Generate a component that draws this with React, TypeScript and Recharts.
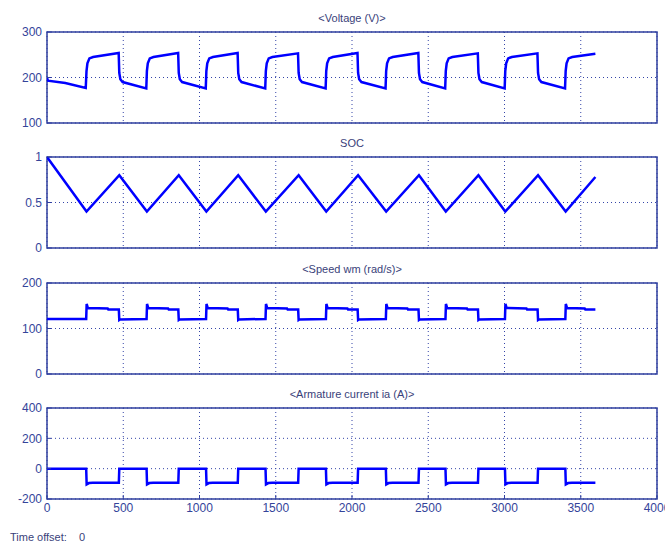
import React from 'react';
import { LineChart, Line, XAxis, YAxis, CartesianGrid, ReferenceArea } from 'recharts';

type Pt = [number, number];

const xTicks = [0, 500, 1000, 1500, 2000, 2500, 3000, 3500, 4000];

const voltageTicks = [100, 200, 300];
const socTicks = [0, 0.5, 1];
const speedTicks = [0, 100, 200];
const currentTicks = [-200, 0, 200, 400];

const titles = ['<Voltage (V)>', 'SOC', '<Speed wm (rad/s)>', '<Armature current ia (A)>'];

const voltagePts: Pt[] = [
  [0, 199], [6, 193], [120, 188], [254, 177],
  [259, 214], [265, 231], [278, 242], [302, 245], [470, 254],
  [474, 210], [481, 196], [496, 190], [651, 176],
  [655, 214], [661, 231], [674, 242], [698, 245], [860, 254],
  [864, 210], [871, 196], [886, 190], [1041, 176],
  [1045, 214], [1051, 231], [1064, 242], [1088, 245], [1250, 254],
  [1254, 210], [1261, 196], [1276, 190], [1431, 176],
  [1435, 214], [1441, 231], [1454, 242], [1478, 245], [1646, 253],
  [1650, 210], [1657, 196], [1672, 190], [1827, 176],
  [1831, 214], [1837, 231], [1850, 242], [1874, 245], [2036, 254],
  [2040, 210], [2047, 196], [2062, 190], [2220, 176],
  [2224, 214], [2230, 231], [2243, 242], [2267, 245], [2435, 254],
  [2439, 210], [2446, 196], [2461, 190], [2611, 176],
  [2615, 214], [2621, 231], [2634, 242], [2658, 245], [2825, 253],
  [2829, 210], [2836, 196], [2851, 190], [3001, 176],
  [3005, 214], [3011, 231], [3024, 242], [3048, 245], [3216, 253],
  [3220, 210], [3227, 196], [3242, 190], [3397, 176],
  [3401, 214], [3407, 231], [3420, 242], [3444, 245], [3596, 252],
];

const socPts: Pt[] = [
  [0, 1], [259, 0.4], [474, 0.8], [655, 0.4], [864, 0.8], [1045, 0.4],
  [1254, 0.8], [1435, 0.4], [1650, 0.8], [1831, 0.4], [2040, 0.8],
  [2224, 0.4], [2439, 0.8], [2615, 0.4], [2829, 0.8], [3005, 0.4],
  [3220, 0.8], [3401, 0.4], [3596, 0.78],
];

const speedPts: Pt[] = [
  [0, 121], [257, 121], [260, 154], [268, 145], [398, 144], [402, 142], [471, 142], [474, 119], [478, 120], [653, 121],
  [656, 154], [664, 145], [794, 144], [798, 142], [861, 142], [864, 119], [868, 120], [1043, 121],
  [1046, 154], [1054, 145], [1184, 144], [1188, 142], [1251, 142], [1254, 119], [1258, 120], [1433, 121],
  [1436, 154], [1444, 145], [1574, 144], [1578, 142], [1647, 142], [1650, 119], [1654, 120], [1829, 121],
  [1832, 154], [1840, 145], [1970, 144], [1974, 142], [2037, 142], [2040, 119], [2044, 120], [2222, 121],
  [2225, 154], [2233, 145], [2363, 144], [2367, 142], [2436, 142], [2439, 119], [2443, 120], [2613, 121],
  [2616, 154], [2624, 145], [2754, 144], [2758, 142], [2826, 142], [2829, 119], [2833, 120], [3003, 121],
  [3006, 154], [3014, 145], [3144, 144], [3148, 142], [3217, 142], [3220, 119], [3224, 120], [3399, 121],
  [3402, 154], [3410, 145], [3526, 144], [3530, 142], [3596, 142],
];

const currentPts: Pt[] = [
  [0, 0], [257, 0], [260, -104], [275, -95], [300, -93], [471, -93], [474, 0], [653, 0],
  [656, -104], [671, -95], [696, -93], [861, -93], [864, 0], [1043, 0],
  [1046, -104], [1061, -95], [1086, -93], [1251, -93], [1254, 0], [1433, 0],
  [1436, -104], [1451, -95], [1476, -93], [1647, -93], [1650, 0], [1829, 0],
  [1832, -104], [1847, -95], [1872, -93], [2037, -93], [2040, 0], [2222, 0],
  [2225, -104], [2240, -95], [2265, -93], [2436, -93], [2439, 0], [2613, 0],
  [2616, -104], [2631, -95], [2656, -93], [2826, -93], [2829, 0], [3003, 0],
  [3006, -104], [3021, -95], [3046, -93], [3217, -93], [3220, 0], [3399, 0],
  [3402, -104], [3417, -95], [3442, -93], [3596, -93],
];

const FONT = '"Liberation Sans", Arial, sans-serif';
const LABEL = '#34449a';
const FRAME = '#2f3f9f';
const GRID = '#3444a8';
const TITLE = '#3a3f7a';

const PLOT_H = 91;
const PAD = 10;

function Panel(props: {
  top: number;
  title: string;
  pts: Pt[];
  domain: [number, number];
  ticks: number[];
  showX: boolean;
}) {
  const { top, title, pts, domain, ticks, showX } = props;
  const rows = pts.map(([t, v]) => ({ t, v }));
  const h = showX ? PAD + PLOT_H + 25 : PAD + PLOT_H + PAD;
  const tickStyle = { fill: LABEL, fontSize: 12, fontFamily: FONT };
  return (
    <>
      <div
        style={{
          position: 'absolute',
          left: 47,
          width: 610,
          top: top - 21,
          height: 14,
          lineHeight: '14px',
          textAlign: 'center',
          fontFamily: FONT,
          fontSize: 11,
          color: TITLE,
        }}
      >
        {title}
      </div>
      <div style={{ position: 'absolute', left: 0, top: top - PAD, width: 665, height: h }}>
        <LineChart
          width={665}
          height={h}
          data={rows}
          margin={{ top: PAD, right: 8, bottom: showX ? 0 : PAD, left: 0 }}
        >
          <CartesianGrid stroke={GRID} strokeDasharray="1 3" strokeWidth={1} />
          <XAxis
            dataKey="t"
            type="number"
            domain={[0, 4000]}
            ticks={xTicks}
            interval={0}
            allowDataOverflow
            height={showX ? 25 : 0}
            axisLine={false}
            tickLine={{ stroke: FRAME, strokeWidth: 1 }}
            tickSize={-4}
            tickMargin={8}
            tickFormatter={showX ? (v: number) => String(v) : () => ''}
            tick={tickStyle}
          />
          <XAxis
            xAxisId="top"
            orientation="top"
            dataKey="t"
            type="number"
            domain={[0, 4000]}
            ticks={xTicks}
            interval={0}
            allowDataOverflow
            height={0}
            axisLine={false}
            tickLine={{ stroke: FRAME, strokeWidth: 1 }}
            tickSize={-4}
            tickFormatter={() => ''}
            tick={tickStyle}
          />
          <YAxis
            type="number"
            domain={domain}
            ticks={ticks}
            interval={0}
            allowDataOverflow
            width={47}
            axisLine={false}
            tickLine={{ stroke: FRAME, strokeWidth: 1 }}
            tickSize={-4}
            tickMargin={9}
            tick={tickStyle}
          />
          <YAxis
            yAxisId="right"
            orientation="right"
            type="number"
            domain={domain}
            ticks={ticks}
            interval={0}
            allowDataOverflow
            width={0}
            axisLine={false}
            tickLine={{ stroke: FRAME, strokeWidth: 1 }}
            tickSize={-4}
            tickFormatter={() => ''}
            tick={tickStyle}
          />
          <ReferenceArea
            x1={0}
            x2={4000}
            y1={domain[0]}
            y2={domain[1]}
            fill="none"
            fillOpacity={0}
            stroke={FRAME}
            strokeWidth={1.5}
            ifOverflow="visible"
          />
          <Line
            dataKey="v"
            type="linear"
            stroke="#0000ff"
            strokeWidth={2.5}
            dot={false}
            isAnimationActive={false}
          />
        </LineChart>
      </div>
    </>
  );
}

export default function App() {
  return (
    <div
      style={{
        position: 'absolute',
        left: 0,
        top: 0,
        width: 665,
        height: 544,
        background: '#ffffff',
        overflow: 'hidden',
      }}
    >
      <Panel top={32} title={titles[0]} pts={voltagePts} domain={[100, 300]} ticks={voltageTicks} showX={false} />
      <Panel top={157} title={titles[1]} pts={socPts} domain={[0, 1]} ticks={socTicks} showX={false} />
      <Panel top={283} title={titles[2]} pts={speedPts} domain={[0, 200]} ticks={speedTicks} showX={false} />
      <Panel top={408} title={titles[3]} pts={currentPts} domain={[-200, 400]} ticks={currentTicks} showX={true} />
      <div
        style={{
          position: 'absolute',
          left: 10,
          top: 530,
          fontFamily: FONT,
          fontSize: 11,
          color: TITLE,
          whiteSpace: 'pre',
          lineHeight: '14px',
        }}
      >
        {'Time offset:    0'}
      </div>
    </div>
  );
}
